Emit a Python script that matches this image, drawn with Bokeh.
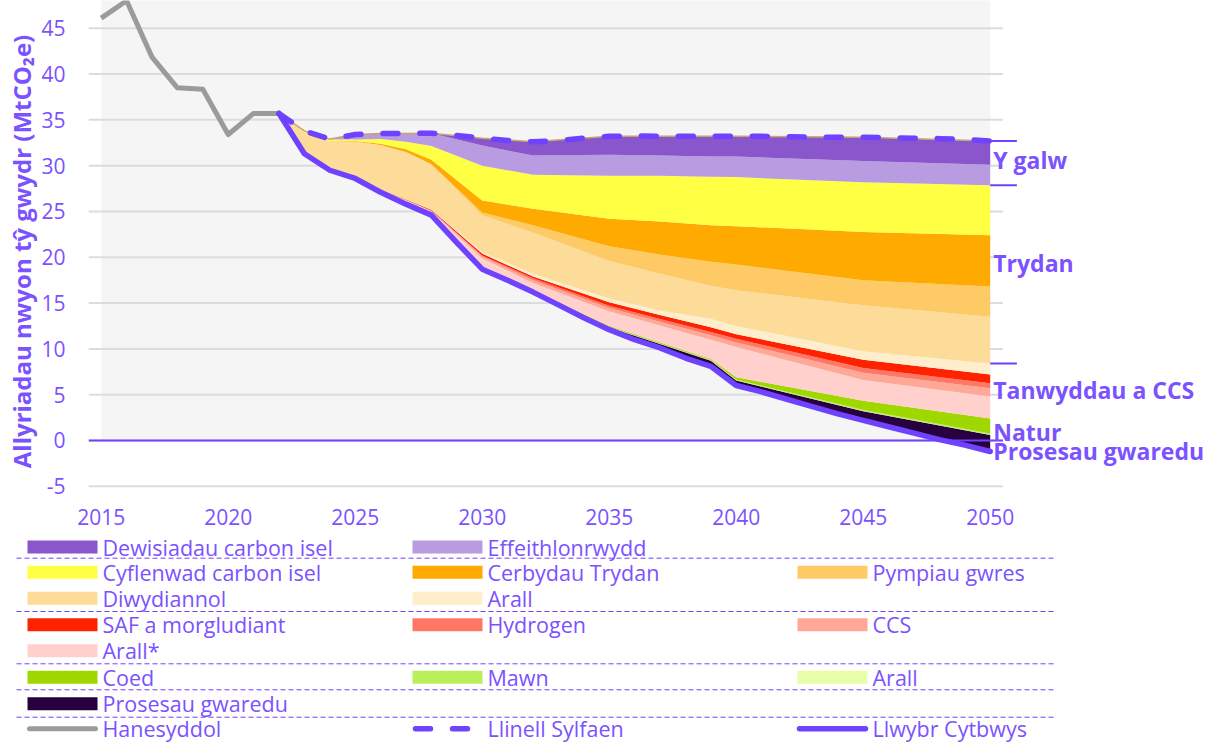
from bokeh.plotting import figure
from bokeh.models import Range1d, FixedTicker
from bokeh.embed import file_html
from bokeh.resources import INLINE
from bokeh.core.properties import value

# ---------------- data ----------------
hist_years = [2015, 2016, 2017, 2018, 2019, 2020, 2021, 2022]
historical = [46.1, 48.0, 41.85, 38.5, 38.35, 33.4, 35.7, 35.7]

line_years = list(range(2022, 2051))
pathway = [35.7, 31.3, 29.5, 28.6, 27.1, 25.8, 24.6, 21.6, 18.7, 17.5, 16.2, 14.8, 13.4, 12.1,
           11.0, 10.1, 9.0, 8.1, 6.0, 5.3, 4.5, 3.7, 2.9, 2.2, 1.5, 0.8, 0.1, -0.5, -1.2]
baseline = [35.7, 33.8, 32.9, 33.4, 33.5, 33.5, 33.55, 33.3, 33.0, 32.75, 32.6, 32.75, 33.0, 33.2,
            33.25, 33.2, 33.2, 33.2, 33.2, 33.2, 33.15, 33.1, 33.1, 33.1, 33.05, 33.0, 32.95, 32.85, 32.7]

stack_years = [2022, 2023, 2024, 2025, 2026, 2027, 2028, 2030, 2032, 2035, 2037, 2039, 2040, 2045, 2050]
prosesau_gwaredu = [0, 0, 0, 0, 0, 0, 0, 0.1, 0.1, 0.22, 0.42, 0.6, 0.55, 1.0, 1.8]
arall_natur =      [0, 0, 0, 0, 0, 0, 0, 0.02, 0.02, 0.03, 0.03, 0.02, 0.02, 0.03, 0.03]
mawn =             [0, 0, 0, 0, 0, 0, 0, 0.03, 0.03, 0.05, 0.05, 0.06, 0.08, 0.12, 0.12]
coed =             [0, 0, 0, 0, 0, 0, 0, 0.05, 0.05, 0.1, 0.1, 0.12, 0.25, 1.0, 1.65]
arall_seren =      [0, 0.05, 0.1, 0.15, 0.25, 0.45, 0.4, 1.0, 0.8, 1.6, 1.85, 2.1, 3.3, 2.25, 2.4]
ccs =              [0, 0, 0, 0, 0, 0, 0.05, 0.2, 0.3, 0.35, 0.4, 0.5, 0.5, 0.8, 0.9]
hydrogen =         [0, 0, 0, 0, 0, 0, 0.05, 0.1, 0.2, 0.25, 0.3, 0.35, 0.4, 0.5, 0.55]
saf =              [0, 0, 0, 0, 0.05, 0.05, 0.1, 0.2, 0.2, 0.4, 0.45, 0.5, 0.5, 0.9, 0.95]
arall_trydan =     [0, 0, 0, 0, 0, 0, 0.05, 0.2, 0.3, 0.4, 0.5, 0.95, 0.9, 0.95, 1.2]
diwydiannol =      [0, 2.3, 3.1, 3.9, 4.85, 5.2, 4.9, 4.0, 4.5, 4.1, 4.0, 3.6, 3.9, 5.0, 5.1]
pympiau =          [0, 0, 0, 0, 0, 0, 0, 0.3, 0.8, 1.6, 2.1, 2.6, 2.8, 2.75, 3.3]
cerbydau =         [0, 0, 0, 0.05, 0.15, 0.3, 0.5, 1.3, 1.8, 3.0, 3.6, 4.0, 4.2, 5.25, 5.6]
cyflenwad =        [0, 0.1, 0.15, 0.15, 0.5, 0.8, 1.5, 3.8, 3.7, 4.7, 5.0, 5.3, 5.35, 5.45, 5.45]
effeithlonrwydd =  [0, 0.05, 0.05, 0.55, 0.6, 0.9, 1.4, 2.2, 2.1, 2.3, 2.2, 2.2, 2.25, 2.3, 2.25]
dewisiadau =       [0, 0, 0, 0, 0, 0, 0, 0.8, 1.5, 2.0, 2.1, 2.2, 2.2, 2.6, 2.6]

# bottom -> top
layers = [
    ("Prosesau gwaredu", prosesau_gwaredu, "#28003f"),
    ("Arall", arall_natur, "#e6ffa8"),
    ("Mawn", mawn, "#b8ef5a"),
    ("Coed", coed, "#9fd700"),
    ("Arall*", arall_seren, "#ffd0cc"),
    ("CCS", ccs, "#ffa898"),
    ("Hydrogen", hydrogen, "#ff7866"),
    ("SAF a morgludiant", saf, "#ff2200"),
    ("Arall", arall_trydan, "#ffeecc"),
    ("Diwydiannol", diwydiannol, "#fddc9a"),
    ("Pympiau gwres", pympiau, "#fdca66"),
    ("Cerbydau Trydan", cerbydau, "#ffaa00"),
    ("Cyflenwad carbon isel", cyflenwad, "#ffff44"),
    ("Effeithlonrwydd", effeithlonrwydd, "#b89be0"),
    ("Dewisiadau carbon isel", dewisiadau, "#8a56cc"),
]

group_labels = ["Y galw", "Trydan", "Tanwyddau a CCS", "Natur", "Prosesau gwaredu"]
group_label_y = [30.6, 19.4, 5.5, 0.9, -1.2]

x_ticks = [2015, 2020, 2025, 2030, 2035, 2040, 2045, 2050]
y_ticks = [-5, 0, 5, 10, 15, 20, 25, 30, 35, 40, 45]
y_title = "Allyriadau nwyon tŷ gwydr (MtCO₂e)"

PURPLE = "#6e42ff"
TEXT = "#7b52ff"
FONT = "Open Sans"

# ---------------- main chart ----------------
p = figure(width=1210, height=532, frame_width=1122, frame_height=502,
           x_range=Range1d(2014.5, 2014.5 + 1122 / 25.4), y_range=Range1d(-6.77, 48.03),
           output_backend="svg", toolbar_location=None,
           min_border_left=88, min_border_right=0, min_border_top=0, min_border_bottom=30)
p.outline_line_color = None
p.grid.visible = False
p.background_fill_color = "white"

p.xaxis.ticker = FixedTicker(ticks=x_ticks)
p.yaxis.ticker = FixedTicker(ticks=y_ticks)
p.yaxis.major_label_overrides = {-5: "-5"}
for ax in p.axis:
    ax.axis_line_color = None
    ax.major_tick_line_color = None
    ax.minor_tick_line_color = None
    ax.major_label_text_color = TEXT
    ax.major_label_text_font = FONT
    ax.major_label_text_font_size = "21px"
p.xaxis.major_label_standoff = 0
p.yaxis.major_label_standoff = 17
p.yaxis.axis_label = y_title
p.yaxis.axis_label_text_font = FONT
p.yaxis.axis_label_text_font_style = "bold"
p.yaxis.axis_label_text_font_size = "24px"
p.yaxis.axis_label_text_color = TEXT
p.yaxis.axis_label_standoff = 0

# shaded background behind the series
p.quad(left=hist_years[0], right=line_years[-1], bottom=0, top=60,
       fill_color="#f5f5f5", line_color=None)
# gridlines
for t in y_ticks:
    p.segment(x0=2014.5, x1=2050.5, y0=t, y1=t, line_color="#dcdcdc", line_width=2)

# stacked wedges between pathway and baseline
base = [pathway[line_years.index(y)] for y in stack_years]
cum = list(base)
for name, vals, col in layers:
    top = [c + v for c, v in zip(cum, vals)]
    p.varea(x=stack_years, y1=cum, y2=top, fill_color=col)
    cum = top
p.line(stack_years, cum, line_color="#c8a46e", line_width=1.5)

# zero line
p.segment(x0=2014.5, x1=2050.5, y0=0, y1=0, line_color=PURPLE, line_width=2)

# lines
p.line(hist_years, historical, line_color="#9b9b9b", line_width=5, line_join="round")
p.line(line_years, baseline, line_color=PURPLE, line_width=5.5, line_dash="15 22",
       line_cap="round", line_join="round")
p.line(line_years, pathway, line_color=PURPLE, line_width=5.5, line_join="round", line_cap="round")

# group brackets at 2050
i50 = stack_years.index(2050)
cum50 = [base[i50]]
for name, vals, col in layers:
    cum50.append(cum50[-1] + vals[i50])
bracket_y = [cum50[15], cum50[13], cum50[9]]
for by in bracket_y:
    p.segment(x0=2050, x1=2051.05, y0=by, y1=by, line_color=PURPLE, line_width=2)

p.text(x=[2050.12] * len(group_labels), y=group_label_y, text=group_labels,
       text_font=value(FONT), text_font_style="bold", text_font_size="23px",
       text_color=TEXT, text_baseline="middle", text_align="left")

# ---------------- legend ----------------
LH = 213
leg = figure(width=1210, height=LH, x_range=Range1d(0, 1210), y_range=Range1d(LH, 0),
             output_backend="svg", toolbar_location=None, min_border=0,
             x_axis_type=None, y_axis_type=None)
leg.outline_line_color = None
leg.grid.visible = False

row_y = [14.5, 39.7, 65.7, 92.3, 118.3, 144.7, 171.3, 196.3]
col_x = [27, 412, 797]
sep_y = [25.7, 79, 131.3, 157.3, 184.7]
LFS = "21.5px"

legend_items = [
    (0, 0, "Dewisiadau carbon isel", "#8a56cc"), (0, 1, "Effeithlonrwydd", "#b89be0"),
    (1, 0, "Cyflenwad carbon isel", "#ffff44"), (1, 1, "Cerbydau Trydan", "#ffaa00"),
    (1, 2, "Pympiau gwres", "#fdca66"),
    (2, 0, "Diwydiannol", "#fddc9a"), (2, 1, "Arall", "#ffeecc"),
    (3, 0, "SAF a morgludiant", "#ff2200"), (3, 1, "Hydrogen", "#ff7866"), (3, 2, "CCS", "#ffa898"),
    (4, 0, "Arall*", "#ffd0cc"),
    (5, 0, "Coed", "#9fd700"), (5, 1, "Mawn", "#b8ef5a"), (5, 2, "Arall", "#e6ffa8"),
    (6, 0, "Prosesau gwaredu", "#28003f"),
]
for r, c, lab, colr in legend_items:
    yc = row_y[r]
    leg.quad(left=col_x[c], right=col_x[c] + 70, bottom=yc - 6.5, top=yc + 6.5,
             fill_color=colr, line_color=None)
    leg.text(x=[col_x[c] + 75], y=[yc], text=[lab], text_font=value(FONT),
             text_font_size=LFS, text_color=TEXT, text_baseline="middle")

yl = row_y[7]
leg.line([col_x[0] + 2, col_x[0] + 68], [yl, yl], line_color="#9b9b9b", line_width=5, line_cap="round")
leg.text(x=[col_x[0] + 75], y=[yl], text=["Hanesyddol"], text_font=value(FONT),
         text_font_size=LFS, text_color=TEXT, text_baseline="middle")
leg.line([col_x[1] + 3, col_x[1] + 68], [yl, yl], line_color=PURPLE, line_width=5.5,
         line_dash="15 22", line_cap="round")
leg.text(x=[col_x[1] + 75], y=[yl], text=["Llinell Sylfaen"], text_font=value(FONT),
         text_font_size=LFS, text_color=TEXT, text_baseline="middle")
leg.line([col_x[2] + 2, col_x[2] + 68], [yl, yl], line_color=PURPLE, line_width=5.5, line_cap="round")
leg.text(x=[col_x[2] + 75], y=[yl], text=["Llwybr Cytbwys"], text_font=value(FONT),
         text_font_size=LFS, text_color=TEXT, text_baseline="middle")

for sy in sep_y:
    leg.line([16, 1055], [sy, sy], line_color=PURPLE, line_width=1, line_dash="5 3")

open("out.html", "w").write(file_html([p, leg], INLINE))
